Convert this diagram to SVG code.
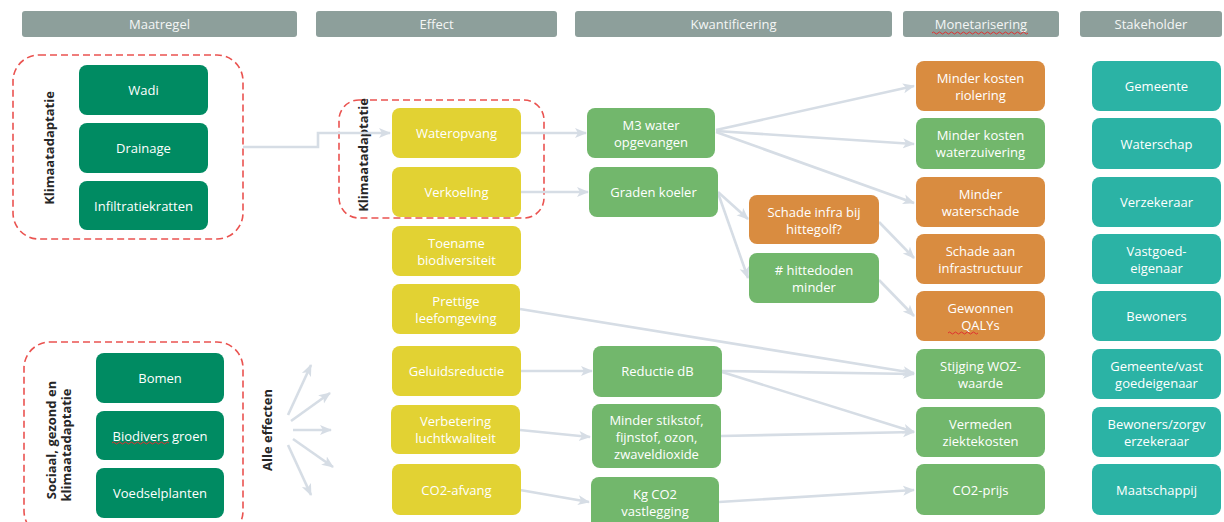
<svg xmlns="http://www.w3.org/2000/svg" width="1224" height="522" viewBox="0 0 1224 522">
<style>
text{font-family:"Open Sans","Noto Sans","Liberation Sans",sans-serif;}
.hdr rect{fill:#8d9f9b;}
.hdr text{fill:#f4f6f5;font-size:13px;text-anchor:middle;dominant-baseline:central;}
.node rect{rx:8;ry:8;}
.node text{fill:#ffffff;font-size:13px;text-anchor:middle;dominant-baseline:central;}
.dg rect{fill:#008b62;}
.ye rect{fill:#e2d233;}
.lg rect{fill:#72b76c;}
.or rect{fill:#d98c40;}
.te rect{fill:#2bb3a5;}
.grp{fill:none;stroke:#ea5350;stroke-width:1.6;stroke-dasharray:7 4;}
.lbl{fill:#262626;font-size:13px;font-weight:bold;text-anchor:middle;dominant-baseline:central;}
.conn path{fill:none;stroke:#d6dde5;stroke-width:2.6;marker-end:url(#ah);}
.sq{fill:none;stroke:#e03030;stroke-width:1;}
</style>
<defs>
<marker id="ah" markerUnits="userSpaceOnUse" markerWidth="12" markerHeight="12" viewBox="0 0 12 12" refX="11" refY="6" orient="auto">
<path d="M0,1 L12,6 L0,11 L3,6 Z" fill="#d6dde5"/>
</marker>
</defs>
<rect width="1224" height="522" fill="#ffffff"/>

<g id="headers" class="hdr">
<g id="h-maatregel"><rect x="22" y="11" width="275" height="26" rx="3"/><text x="159.5" y="24">Maatregel</text></g>
<g id="h-effect"><rect x="316" y="11" width="241" height="26" rx="3"/><text x="436.5" y="24">Effect</text></g>
<g id="h-kwant"><rect x="575" y="11" width="317" height="26" rx="3"/><text x="733.5" y="24">Kwantificering</text></g>
<g id="h-monet"><rect x="903" y="11" width="156" height="26" rx="3"/><text x="981" y="24">Monetarisering</text></g>
<g id="h-stake"><rect x="1080" y="11" width="142" height="26" rx="3"/><text x="1151" y="24">Stakeholder</text></g>
</g>

<g id="groups">
<rect class="grp" x="13" y="55" width="230" height="184" rx="26"/>
<rect class="grp" x="339" y="100" width="205" height="118" rx="20"/>
<rect class="grp" x="24" y="342" width="219" height="195" rx="26"/>
<text class="lbl" transform="translate(49,148) rotate(-90)">Klimaatadaptatie</text>
<text class="lbl" transform="translate(363,155) rotate(-90)">Klimaatadaptatie</text>
<text class="lbl" transform="translate(51,440) rotate(-90)">Sociaal, gezond en</text>
<text class="lbl" transform="translate(66,445) rotate(-90)">klimaatadaptatie</text>
<text class="lbl" transform="translate(267,430) rotate(-90)">Alle effecten</text>
</g>

<g id="connectors" class="conn">
<path d="M243,147 H318 V133 H390"/>
<path d="M521,133 H586"/>
<path d="M521,192 H588"/>
<path d="M716,130 L914,86"/>
<path d="M716,131 L914,144"/>
<path d="M716,132 L914,203"/>
<path d="M718,192 L748,219"/>
<path d="M718,193 L748,278"/>
<path d="M879,222 L914,258"/>
<path d="M879,280 L914,316"/>
<path d="M520,309 L914,373"/>
<path d="M521,371 H592"/>
<path d="M722,371 L914,374"/>
<path d="M722,372 L914,432"/>
<path d="M520,430 L590,437"/>
<path d="M721,436 L914,432"/>
<path d="M520,490 L589,502"/>
<path d="M719,502 L914,490"/>
<path d="M288,415 L311,365"/>
<path d="M291,421 L330,393"/>
<path d="M293,430 L331,430"/>
<path d="M293,439 L333,467"/>
<path d="M288,445 L311,495"/>
</g>

<g id="n-wadi" class="node dg"><rect x="79" y="65" width="129" height="50"/><text x="143.5" y="90">Wadi</text></g>
<g id="n-drainage" class="node dg"><rect x="79" y="123" width="129" height="50"/><text x="143.5" y="148">Drainage</text></g>
<g id="n-infiltratie" class="node dg"><rect x="79" y="181" width="129" height="49"/><text x="143.5" y="205.5">Infiltratiekratten</text></g>
<g id="n-bomen" class="node dg"><rect x="96" y="353" width="128" height="50"/><text x="160" y="378">Bomen</text></g>
<g id="n-biodivers" class="node dg"><rect x="96" y="411" width="128" height="49"/><text x="160" y="435.5">Biodivers groen</text></g>
<g id="n-voedsel" class="node dg"><rect x="96" y="468" width="128" height="50"/><text x="160" y="493">Voedselplanten</text></g>

<g id="n-wateropvang" class="node ye"><rect x="392" y="108" width="129" height="50"/><text x="456.5" y="133">Wateropvang</text></g>
<g id="n-verkoeling" class="node ye"><rect x="392" y="167" width="129" height="50"/><text x="456.5" y="192">Verkoeling</text></g>
<g id="n-biodiversiteit" class="node ye"><rect x="392" y="226" width="129" height="50"/><text x="456.5" y="243">Toename</text><text x="456.5" y="260">biodiversiteit</text></g>
<g id="n-prettig" class="node ye"><rect x="392" y="284" width="128" height="50"/><text x="456" y="301">Prettige</text><text x="456" y="318">leefomgeving</text></g>
<g id="n-geluid" class="node ye"><rect x="392" y="346" width="129" height="50"/><text x="456.5" y="371">Geluidsreductie</text></g>
<g id="n-lucht" class="node ye"><rect x="391" y="405" width="129" height="49"/><text x="455.5" y="421">Verbetering</text><text x="455.5" y="438">luchtkwaliteit</text></g>
<g id="n-co2afvang" class="node ye"><rect x="392" y="464" width="129" height="51"/><text x="456.5" y="490">CO2-afvang</text></g>

<g id="n-m3" class="node lg"><rect x="587" y="108" width="128" height="50"/><text x="651" y="125">M3 water</text><text x="651" y="142">opgevangen</text></g>
<g id="n-graden" class="node lg"><rect x="589" y="167" width="129" height="50"/><text x="653.5" y="192">Graden koeler</text></g>
<g id="n-schadeinfra" class="node or"><rect x="749" y="195" width="130" height="49"/><text x="814" y="212">Schade infra bij</text><text x="814" y="229">hittegolf?</text></g>
<g id="n-hittedoden" class="node lg"><rect x="749" y="253" width="130" height="50"/><text x="814" y="270"># hittedoden</text><text x="814" y="287">minder</text></g>
<g id="n-reductie" class="node lg"><rect x="593" y="346" width="129" height="51"/><text x="657.5" y="371">Reductie dB</text></g>
<g id="n-stikstof" class="node lg"><rect x="592" y="404" width="129" height="64"/><text x="656.5" y="420">Minder stikstof,</text><text x="656.5" y="437">fijnstof, ozon,</text><text x="656.5" y="454">zwaveldioxide</text></g>
<g id="n-kgco2" class="node lg"><rect x="591" y="477" width="128" height="52"/><text x="655" y="494">Kg CO2</text><text x="655" y="511">vastlegging</text></g>

<g id="n-riolering" class="node or"><rect x="916" y="61" width="129" height="50"/><text x="980.5" y="78">Minder kosten</text><text x="980.5" y="95">riolering</text></g>
<g id="n-waterzuivering" class="node lg"><rect x="916" y="118" width="129" height="51"/><text x="980.5" y="135">Minder kosten</text><text x="980.5" y="152">waterzuivering</text></g>
<g id="n-waterschade" class="node or"><rect x="916" y="177" width="129" height="50"/><text x="980.5" y="194">Minder</text><text x="980.5" y="211">waterschade</text></g>
<g id="n-schadeaan" class="node or"><rect x="916" y="234" width="129" height="50"/><text x="980.5" y="251">Schade aan</text><text x="980.5" y="268">infrastructuur</text></g>
<g id="n-qalys" class="node or"><rect x="916" y="291" width="129" height="50"/><text x="980.5" y="308">Gewonnen</text><text x="980.5" y="325">QALYs</text></g>
<g id="n-woz" class="node lg"><rect x="916" y="349" width="129" height="50"/><text x="980.5" y="366">Stijging WOZ-</text><text x="980.5" y="383">waarde</text></g>
<g id="n-ziekte" class="node lg"><rect x="916" y="407" width="129" height="50"/><text x="980.5" y="424">Vermeden</text><text x="980.5" y="441">ziektekosten</text></g>
<g id="n-co2prijs" class="node lg"><rect x="916" y="464" width="129" height="51"/><text x="980.5" y="490">CO2-prijs</text></g>

<g id="n-gemeente" class="node te"><rect x="1092" y="61" width="129" height="50"/><text x="1156.5" y="86">Gemeente</text></g>
<g id="n-waterschap" class="node te"><rect x="1092" y="118" width="129" height="51"/><text x="1156.5" y="144">Waterschap</text></g>
<g id="n-verzekeraar" class="node te"><rect x="1092" y="177" width="129" height="50"/><text x="1156.5" y="202">Verzekeraar</text></g>
<g id="n-vastgoed" class="node te"><rect x="1092" y="234" width="129" height="50"/><text x="1156.5" y="251">Vastgoed-</text><text x="1156.5" y="268">eigenaar</text></g>
<g id="n-bewoners" class="node te"><rect x="1092" y="291" width="129" height="50"/><text x="1156.5" y="316">Bewoners</text></g>
<g id="n-gemvast" class="node te"><rect x="1092" y="349" width="129" height="50"/><text x="1156.5" y="366">Gemeente/vast</text><text x="1156.5" y="383">goedeigenaar</text></g>
<g id="n-bewzorg" class="node te"><rect x="1092" y="407" width="129" height="50"/><text x="1156.5" y="424">Bewoners/zorgv</text><text x="1156.5" y="441">erzekeraar</text></g>
<g id="n-maatschappij" class="node te"><rect x="1092" y="464" width="129" height="51"/><text x="1156.5" y="490">Maatschappij</text></g>

<g id="spellcheck">
<path class="sq" d="M932,33 q1.5,-2 3,0 t3,0 t3,0 t3,0 t3,0 t3,0 t3,0 t3,0 t3,0 t3,0 t3,0 t3,0 t3,0 t3,0 t3,0 t3,0 t3,0 t3,0 t3,0 t3,0 t3,0 t3,0 t3,0 t3,0 t3,0 t3,0 t3,0 t3,0 t3,0 t3,0 t3,0 t3,0"/>
<path class="sq" d="M112,443 q1.5,-2 3,0 t3,0 t3,0 t3,0 t3,0 t3,0 t3,0 t3,0 t3,0 t3,0 t3,0 t3,0 t3,0 t3,0 t3,0 t3,0 t3,0 t3,0 t3,0"/>
<path class="sq" d="M948,333 q1.5,-2 3,0 t3,0 t3,0 t3,0 t3,0 t3,0 t3,0 t3,0 t3,0 t3,0"/>
</g>
</svg>
